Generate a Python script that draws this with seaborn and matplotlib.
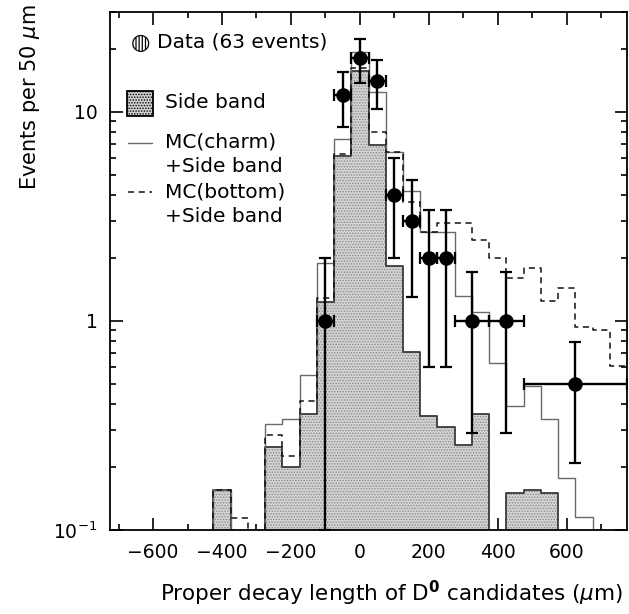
import numpy as np
import pandas as pd
import matplotlib
matplotlib.use("Agg")
import matplotlib.pyplot as plt
from matplotlib.patches import Rectangle
from matplotlib.lines import Line2D
from matplotlib.ticker import FixedLocator, MultipleLocator, LogLocator, FuncFormatter, NullFormatter
import seaborn as sns

# 50 um bins from -725 to 775 (centres -700 ... 750)
bin_edges = list(range(-725, 776, 50))
bin_centers = [e + 25 for e in bin_edges[:-1]]

side_band = [0, 0, 0, 0, 0, 0, 0.155, 0, 0, 0.25, 0.20, 0.36, 1.23, 6.15, 15.7,
             6.9, 1.83, 0.71, 0.35, 0.31, 0.255, 0.36, 0, 0.15, 0.155, 0.15, 0, 0, 0, 0]
mc_charm = [0, 0, 0, 0, 0, 0, 0.155, 0, 0, 0.32, 0.34, 0.55, 1.90, 7.4, 19.4,
            12.4, 6.4, 4.2, 2.67, 2.67, 1.31, 1.10, 0.63, 0.39, 0.49, 0.34, 0.177, 0.115, 0, 0]
mc_bottom = [0, 0, 0, 0, 0, 0, 0.155, 0.114, 0, 0.285, 0.227, 0.416, 1.29, 6.3, 16.2,
             8.0, 6.4, 3.72, 2.67, 2.93, 2.93, 2.44, 2.0, 1.60, 1.80, 1.25, 1.44, 0.94, 0.90, 0.61]

# data points (63 events)
data_x = [-100, -50, 0, 50, 100, 150, 200, 250, 325, 425, 625]
data_y = [1, 12, 18, 14, 4, 3, 2, 2, 1, 1, 0.5]
data_xerr = [25, 25, 25, 25, 25, 25, 25, 25, 50, 50, 150]
err_lo = [0.9, 3.5, 4.2, 3.7, 2.0, 1.7, 1.4, 1.4, 0.71, 0.71, 0.29]
err_hi = [1.0, 3.5, 4.2, 3.7, 2.0, 1.7, 1.4, 1.4, 0.71, 0.71, 0.29]

df = pd.DataFrame({"x": bin_centers, "side": side_band,
                   "charm": mc_charm, "bottom": mc_bottom})

sns.set_style("ticks")
plt.rcParams["font.family"] = ["DejaVu Sans"]
plt.rcParams["hatch.linewidth"] = 0.7
plt.rcParams["text.color"] = "black"
plt.rcParams["axes.labelcolor"] = "black"

W, H = 629, 614
fig, ax = plt.subplots(figsize=(W / 100, H / 100), dpi=100)
fig.subplots_adjust(left=110 / W, right=627 / W, bottom=1 - 530 / H, top=1 - 12 / H)
ax.set_yscale("log")

# side band: dotted grey fill + dark outline
sns.histplot(df, x="x", weights="side", bins=bin_edges, element="step", fill=True,
             facecolor="#d4d4d4", edgecolor="#8a8a8a", hatch="......", linewidth=0,
             ax=ax)
sns.histplot(df, x="x", weights="side", bins=bin_edges, element="step", fill=False,
             color="#3a3a3a", linewidth=1.3, ax=ax)
# MC curves
sns.histplot(df, x="x", weights="charm", bins=bin_edges, element="step", fill=False,
             color="#6a6a6a", linewidth=1.0, ax=ax)
sns.histplot(df, x="x", weights="bottom", bins=bin_edges, element="step", fill=False,
             color="#111111", linewidth=1.1, linestyle=(0, (4, 3)), ax=ax)

# data with error bars
ax.errorbar(data_x, data_y, xerr=data_xerr, yerr=[err_lo, err_hi], fmt="none",
            ecolor="black", elinewidth=1.7, capsize=4.5, capthick=1.6, zorder=5)
sns.scatterplot(x=data_x, y=data_y, color="black", s=110, edgecolor="black",
                linewidth=0, ax=ax, zorder=6)

ax.set_xlim(-725, 775)
ax.set_ylim(0.1, 30)

ax.xaxis.set_major_locator(MultipleLocator(200))
ax.xaxis.set_minor_locator(MultipleLocator(100))
ax.yaxis.set_major_locator(FixedLocator([0.1, 1, 10]))
ax.yaxis.set_minor_locator(LogLocator(base=10, subs=np.arange(2, 10)))
ax.yaxis.set_minor_formatter(NullFormatter())
ax.yaxis.set_major_formatter(FuncFormatter(
    lambda v, p: {0.1: r"$10^{-1}$", 1: "1", 10: "10"}.get(round(v, 3), "")))

ax.tick_params(which="both", direction="in", top=True, right=True, width=1.2,
               labelsize=13.5, colors="black")
ax.tick_params(which="major", length=9, pad=9)
ax.tick_params(which="minor", length=4.5)
for s in ax.spines.values():
    s.set_linewidth(1.3)
    s.set_color("black")

ax.set_xlabel(r"Proper decay length of D$^{\mathbf{0}}$ candidates ($\mu$m)",
              fontsize=15.5)
ax.xaxis.set_label_coords((391 - 110) / 517, -(593 - 530) / 518)
ax.xaxis.label.set_va("center")
ax.set_ylabel(r"Events per 50 $\mu$m", fontsize=15)
ax.yaxis.set_label_coords(-(110 - 30) / 517, 1 - (97 - 12) / 518)
ax.yaxis.label.set_va("center")

# hand-made legend (pixel positions of the original figure)
def fx(px):
    return px / W

def fy(py):
    return 1 - py / H

fig.text(fx(140), fy(43), "\u25cd", fontsize=16, ha="center", va="center")
fig.text(fx(157), fy(42), "Data (63 events)", fontsize=14.5, va="center")

fig.patches.append(Rectangle((fx(127), fy(116)), fx(26), 25 / H, transform=fig.transFigure,
                             facecolor="#d0d0d0", edgecolor="black", hatch="......",
                             linewidth=1.3))
fig.text(fx(165), fy(103), "Side band", fontsize=14.5, va="center")

fig.lines.append(Line2D([fx(128), fx(152)], [fy(143), fy(143)], transform=fig.transFigure,
                        color="#6a6a6a", linewidth=1.0))
fig.text(fx(165), fy(142), "MC(charm)", fontsize=14.5, va="center")
fig.text(fx(165), fy(167), "+Side band", fontsize=14.5, va="center")

fig.lines.append(Line2D([fx(128), fx(152)], [fy(192), fy(192)], transform=fig.transFigure,
                        color="#111111", linewidth=1.1, linestyle=(0, (4, 3))))
fig.text(fx(165), fy(192), "MC(bottom)", fontsize=14.5, va="center")
fig.text(fx(165), fy(217), "+Side band", fontsize=14.5, va="center")

fig.savefig("out.png", dpi=100)
